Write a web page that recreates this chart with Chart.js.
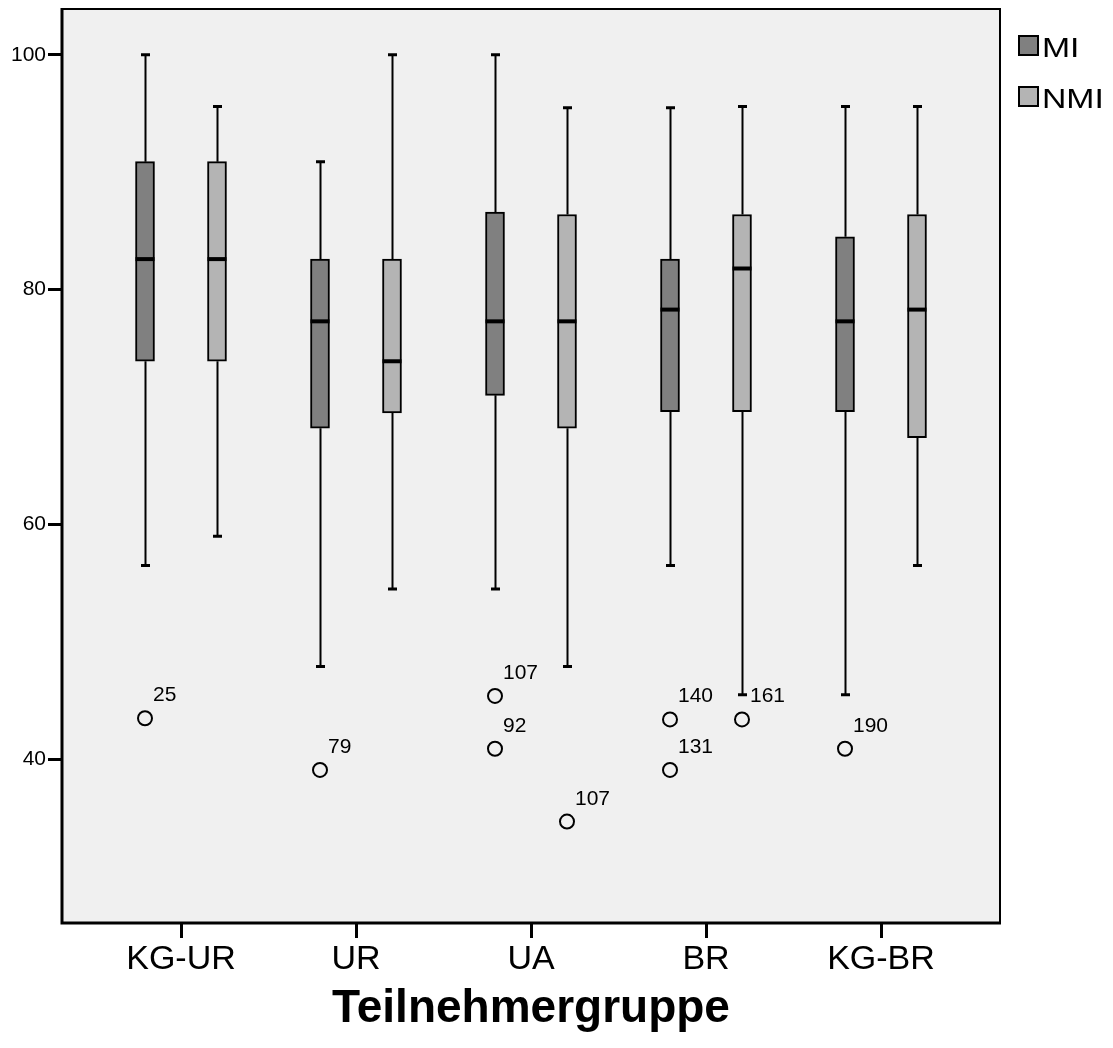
<!DOCTYPE html>
<html>
<head>
<meta charset="utf-8">
<script src="https://cdn.jsdelivr.net/npm/chart.js@4.4.1/dist/chart.umd.min.js"></script>
<style>
  html, body { margin: 0; padding: 0; background: #fff; }
  #wrap { width: 1113px; height: 1048px; }
</style>
</head>
<body>
<div id="wrap"><canvas id="chart" width="1113" height="1048"></canvas></div>
<script>
// data
const categories = ["KG-UR", "UR", "UA", "BR", "KG-BR"];
const seriesNames = ["MI", "NMI"];
const yTicks = [40, 60, 80, 100];

const miMin = [56.5, 47.9, 54.5, 56.5, 45.5];
const miQ1  = [73.9, 68.2, 71.0, 69.6, 69.6];
const miMed = [82.6, 77.3, 77.3, 78.3, 77.3];
const miQ3  = [90.9, 82.6, 86.6, 82.6, 84.5];
const miMax = [100, 90.9, 100, 95.5, 95.6];
const miOut   = [[43.5], [39.1], [45.4, 40.9], [43.4, 39.1], [40.9]];
const miOutId = [["25"], ["79"], ["107", "92"], ["140", "131"], ["190"]];

const nmiMin = [59.0, 54.5, 47.9, 45.5, 56.5];
const nmiQ1  = [73.9, 69.5, 68.2, 69.6, 67.4];
const nmiMed = [82.6, 73.9, 77.3, 81.8, 78.3];
const nmiQ3  = [90.9, 82.6, 86.4, 86.4, 86.4];
const nmiMax = [95.6, 100, 95.5, 95.6, 95.6];
const nmiOut   = [[], [], [34.7], [43.4], []];
const nmiOutId = [[], [], ["107"], ["161"], []];

const FONT = "'Liberation Sans', Arial, Helvetica, sans-serif";
Chart.defaults.font.family = FONT;
Chart.defaults.color = "#000";

const SHIFT = 0.2057;   // half distance between MI and NMI box, in category units
const colMI = "#808080", colNMI = "#b4b4b4";

const stats = [
  { min: miMin, q1: miQ1, med: miMed, q3: miQ3, max: miMax },
  { min: nmiMin, q1: nmiQ1, med: nmiMed, q3: nmiQ3, max: nmiMax }
];

function boxData(q1, q3, dx) {
  return categories.map((c, i) => ({ x: i + dx, y: [q1[i], q3[i]] }));
}
function outData(out, ids, dx) {
  const pts = [];
  out.forEach((vals, i) => vals.forEach((v, k) => pts.push({ x: i + dx, y: v, id: ids[i][k] })));
  return pts;
}

const boxPlugin = {
  id: "boxplot",
  beforeDraw(chart) {
    const { ctx, chartArea: a } = chart;
    ctx.save();
    ctx.fillStyle = "#f0f0f0";
    ctx.fillRect(a.left, a.top, a.right - a.left, a.bottom - a.top);
    ctx.restore();
  },
  afterDatasetsDraw(chart) {
    const { ctx, scales: { y } } = chart;
    ctx.save();
    ctx.strokeStyle = "#000";
    [0, 1].forEach(s => {
      const meta = chart.getDatasetMeta(s);
      const st = stats[s];
      meta.data.forEach((bar, i) => {
        const x = Math.round(bar.x) + 0.5;
        const yQ1 = y.getPixelForValue(st.q1[i]);
        const yQ3 = y.getPixelForValue(st.q3[i]);
        const yMin = y.getPixelForValue(st.min[i]);
        const yMax = y.getPixelForValue(st.max[i]);
        const yMed = y.getPixelForValue(st.med[i]);
        // whiskers
        ctx.lineWidth = 2;
        ctx.beginPath();
        ctx.moveTo(x, yQ3); ctx.lineTo(x, yMax);
        ctx.moveTo(x, yQ1); ctx.lineTo(x, yMin);
        ctx.stroke();
        ctx.lineWidth = 3;
        ctx.beginPath();
        ctx.moveTo(x - 4.5, yMax); ctx.lineTo(x + 4.5, yMax);
        ctx.moveTo(x - 4.5, yMin); ctx.lineTo(x + 4.5, yMin);
        ctx.stroke();
        // median
        ctx.lineWidth = 4;
        ctx.beginPath();
        ctx.moveTo(bar.x - bar.width / 2, yMed);
        ctx.lineTo(bar.x + bar.width / 2, yMed);
        ctx.stroke();
      });
    });
    // outlier case numbers
    ctx.fillStyle = "#000";
    ctx.font = "21px " + FONT;
    ctx.textBaseline = "alphabetic";
    ctx.textAlign = "left";
    [2, 3].forEach(d => {
      const meta = chart.getDatasetMeta(d);
      const pts = chart.data.datasets[d].data;
      meta.data.forEach((pt, k) => ctx.fillText(pts[k].id, pt.x + 8, pt.y - 17));
    });
    // frame
    const a = chart.chartArea;
    ctx.strokeStyle = "#000";
    ctx.lineWidth = 2;
    ctx.strokeRect(a.left, a.top, a.right - a.left, a.bottom - a.top);
    ctx.lineWidth = 3;
    ctx.beginPath();
    ctx.moveTo(a.left, a.top - 1); ctx.lineTo(a.left, a.bottom); ctx.lineTo(a.right + 1, a.bottom);
    ctx.stroke();
    ctx.restore();
  },
  afterDraw(chart) {
    const { ctx } = chart;
    ctx.save();
    seriesNames.forEach((name, s) => {
      const top = 35 + s * 51;
      ctx.fillStyle = chart.data.datasets[s].backgroundColor;
      ctx.fillRect(1018, top, 21, 21);
      ctx.strokeStyle = "#000";
      ctx.lineWidth = 2;
      ctx.strokeRect(1019, top + 1, 19, 19);
      ctx.fillStyle = "#000";
      ctx.font = "27px " + FONT;
      ctx.textBaseline = "alphabetic";
      ctx.translate(1042, top + 22);
      ctx.scale(1.25, 1);
      ctx.fillText(name, 0, 0);
      ctx.setTransform(1, 0, 0, 1, 0, 0);
    });
    ctx.restore();
  }
};

new Chart(document.getElementById("chart"), {
  type: "bar",
  data: {
    datasets: [
      { label: seriesNames[0], data: boxData(miQ1, miQ3, -SHIFT), backgroundColor: colMI,
        borderColor: "#000", borderWidth: 2, borderSkipped: false, barThickness: 19, grouped: false },
      { label: seriesNames[1], data: boxData(nmiQ1, nmiQ3, SHIFT), backgroundColor: colNMI,
        borderColor: "#000", borderWidth: 2, borderSkipped: false, barThickness: 19, grouped: false },
      { type: "scatter", label: "MI outliers", data: outData(miOut, miOutId, -SHIFT),
        pointRadius: 7, pointBorderWidth: 2, borderColor: "#000", backgroundColor: "rgba(0,0,0,0)" },
      { type: "scatter", label: "NMI outliers", data: outData(nmiOut, nmiOutId, SHIFT),
        pointRadius: 7, pointBorderWidth: 2, borderColor: "#000", backgroundColor: "rgba(0,0,0,0)" }
    ]
  },
  options: {
    responsive: false,
    animation: false,
    events: [],
    devicePixelRatio: 1,
    layout: { padding: { top: 9, right: 113, left: 0, bottom: 0 } },
    plugins: { legend: { display: false }, tooltip: { enabled: false } },
    scales: {
      x: {
        type: "linear",
        offset: false,
        min: -0.68, max: 4.68,
        afterBuildTicks: s => { s.ticks = categories.map((c, i) => ({ value: i })); },
        afterFit: s => { s.height = 125; s.paddingLeft = 0; s.paddingRight = 0; },
        ticks: { callback: v => categories[v], font: { size: 34 }, padding: 1, maxRotation: 0, autoSkip: false },
        grid: { offset: false, drawOnChartArea: false, tickLength: 15, tickWidth: 3, tickColor: "#000" },
        border: { display: false },
        title: { display: true, text: "Teilnehmergruppe", font: { size: 46, weight: "bold", lineHeight: 1 },
                 padding: { top: 0, bottom: 16 } }
      },
      y: {
        min: 26.06, max: 103.9,
        afterBuildTicks: s => { s.ticks = yTicks.map(v => ({ value: v })); },
        afterFit: s => { s.width = 62; s.paddingTop = 0; s.paddingBottom = 0; },
        ticks: { font: { size: 21 }, padding: 2 },
        grid: { drawOnChartArea: false, tickLength: 14, tickWidth: 3, tickColor: "#000" },
        border: { display: false }
      }
    }
  },
  plugins: [boxPlugin]
});
</script>
</body>
</html>
